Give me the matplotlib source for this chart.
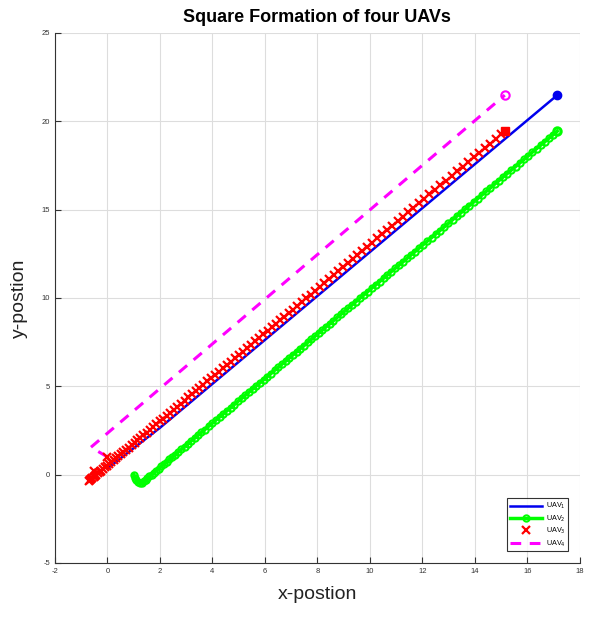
import matplotlib
matplotlib.use("Agg")
import matplotlib.pyplot as plt

plt.rcParams['font.family'] = ['Liberation Sans', 'DejaVu Sans']
plt.rcParams['axes.unicode_minus'] = False

# UAV1 (blue) path
uav1_x = [0.0, 2.0, 17.14]
uav1_y = [0.35, 2.65, 21.47]

# UAV2 (green) path, with the hook at the start
uav2_x = [1.00, 1.04, 1.10, 1.17, 1.25, 1.32,
          1.38, 1.45, 1.52, 1.60, 1.68, 1.77, 1.86, 1.95, 2.05, 2.15, 2.25, 2.36, 2.47, 2.58,
          2.70, 2.82, 2.94, 3.06, 3.19, 3.32, 3.45, 3.58, 3.71, 3.85, 3.99, 4.13, 4.27, 4.41,
          4.55, 4.69, 4.83, 4.97, 5.11, 5.25, 5.39, 5.53, 5.67, 5.81, 5.95, 6.09, 6.23, 6.37,
          6.51, 6.65, 6.79, 6.93, 7.07, 7.21, 7.35, 7.49, 7.63, 7.77, 7.91, 8.05, 8.19, 8.33,
          8.47, 8.61, 8.75, 8.89, 9.03, 9.17, 9.32, 9.47, 9.62, 9.77, 9.92, 10.07, 10.22, 10.37,
          10.52, 10.67, 10.82, 10.97, 11.12, 11.27, 11.42, 11.57, 11.72, 11.87, 12.03, 12.19,
          12.35, 12.51, 12.67, 12.83, 12.99, 13.15, 13.31, 13.47, 13.63, 13.79, 13.95, 14.11,
          14.27, 14.43, 14.59, 14.75, 14.91, 15.07, 15.23, 15.39, 15.55, 15.71, 15.87, 16.03,
          16.19, 16.35, 16.51, 16.67, 16.83, 16.99, 17.14]
uav2_y = [0.00, -0.18, -0.32, -0.42, -0.47, -0.45,
          -0.37, -0.29, -0.20, -0.10, 0.00, 0.12, 0.23, 0.34, 0.47, 0.59, 0.72, 0.86, 0.99, 1.13,
          1.28, 1.43, 1.59, 1.74, 1.90, 2.06, 2.23, 2.39, 2.55, 2.73, 2.90, 3.08, 3.26, 3.43,
          3.61, 3.78, 3.96, 4.14, 4.31, 4.49, 4.66, 4.84, 5.02, 5.19, 5.37, 5.54, 5.72, 5.90,
          6.07, 6.25, 6.42, 6.60, 6.78, 6.95, 7.13, 7.30, 7.48, 7.65, 7.83, 8.01, 8.18, 8.36,
          8.53, 8.71, 8.89, 9.06, 9.24, 9.41, 9.60, 9.79, 9.98, 10.17, 10.36, 10.55, 10.73, 10.92,
          11.11, 11.30, 11.49, 11.68, 11.86, 12.05, 12.24, 12.43, 12.62, 12.81, 13.01, 13.21,
          13.41, 13.61, 13.81, 14.01, 14.21, 14.42, 14.62, 14.82, 15.02, 15.22, 15.42, 15.62,
          15.82, 16.02, 16.22, 16.43, 16.63, 16.83, 17.03, 17.23, 17.43, 17.63, 17.83, 18.03,
          18.24, 18.44, 18.64, 18.84, 19.04, 19.24, 19.43]

# UAV3 (red) samples
uav3_x = [0.00, -0.52,
          -0.69, -0.66, -0.62, -0.58, -0.53, -0.48, -0.42, -0.36, -0.30, -0.23, -0.16, -0.09,
          -0.01, 0.07, 0.15, 0.24, 0.33, 0.42, 0.51, 0.61, 0.71, 0.81, 0.92, 1.03, 1.14, 1.25,
          1.37, 1.49, 1.61, 1.73, 1.86, 1.99, 2.12, 2.25, 2.38, 2.52, 2.66, 2.80, 2.94, 3.08,
          3.22, 3.36, 3.50, 3.65, 3.80, 3.95, 4.10, 4.25, 4.40, 4.55, 4.70, 4.85, 5.00, 5.15,
          5.30, 5.46, 5.62, 5.78, 5.94, 6.10, 6.26, 6.42, 6.58, 6.74, 6.90, 7.06, 7.23, 7.40,
          7.57, 7.74, 7.91, 8.08, 8.26, 8.44, 8.62, 8.80, 8.98, 9.16, 9.34, 9.52, 9.71, 9.90,
          10.09, 10.28, 10.47, 10.66, 10.86, 11.06, 11.26, 11.46, 11.66, 11.86, 12.06, 12.27,
          12.48, 12.69, 12.90, 13.11, 13.32, 13.53, 13.74, 13.95, 14.16, 14.37, 14.58, 14.79,
          15.00]
uav3_y = [1.00, 0.22,
          -0.34, -0.30, -0.25, -0.20, -0.14, -0.08, 0.00, 0.07, 0.15, 0.23, 0.32, 0.41,
          0.51, 0.61, 0.71, 0.82, 0.93, 1.05, 1.16, 1.28, 1.41, 1.53, 1.67, 1.81, 1.95, 2.08,
          2.23, 2.38, 2.53, 2.68, 2.85, 3.01, 3.17, 3.33, 3.49, 3.67, 3.84, 4.02, 4.19, 4.37,
          4.54, 4.72, 4.89, 5.08, 5.27, 5.46, 5.64, 5.83, 6.02, 6.20, 6.39, 6.58, 6.77, 6.95,
          7.14, 7.34, 7.54, 7.74, 7.94, 8.14, 8.34, 8.54, 8.74, 8.94, 9.14, 9.34, 9.55, 9.76,
          9.98, 10.19, 10.40, 10.61, 10.84, 11.06, 11.29, 11.51, 11.74, 11.96, 12.19, 12.41,
          12.65, 12.89, 13.12, 13.36, 13.60, 13.84, 14.09, 14.34, 14.59, 14.84, 15.09, 15.34,
          15.58, 15.85, 16.11, 16.37, 16.63, 16.90, 17.16, 17.42, 17.68, 17.95, 18.21, 18.47,
          18.73, 18.99, 19.26]

# UAV4 (magenta) path
uav4_x = [0.00, -0.63, 15.14]
uav4_y = [1.00, 1.55, 21.47]

# final positions (square formation)
end_x = {'uav1': 17.14, 'uav2': 17.14, 'uav3': 15.14, 'uav4': 15.14}
end_y = {'uav1': 21.47, 'uav2': 19.43, 'uav3': 19.43, 'uav4': 21.47}

fig = plt.figure(figsize=(6.11, 6.18), dpi=100)
ax = fig.add_axes([0.090, 0.089, 0.859, 0.858])

ax.plot(uav1_x, uav1_y, '-', color='#0000ee', lw=1.8, label='UAV$_1$', zorder=3)
ax.plot(uav2_x, uav2_y, '-o', color='#00ff00', lw=2.5, ms=4.5, mfc='none', mew=1.5,
        label='UAV$_2$', zorder=2)
ax.plot(uav3_x, uav3_y, 'x', color='#ff0000', ms=5.5, mew=1.6, label='UAV$_3$', zorder=4)
ax.plot(uav4_x, uav4_y, '--', color='#ff00ff', lw=2.2, dashes=(3.5, 2.8), label='UAV$_4$', zorder=2)

ax.plot(end_x['uav1'], end_y['uav1'], 'o', color='#0000ee', ms=6, zorder=5)
ax.plot(end_x['uav2'], end_y['uav2'], 'o', color='#00ff00', ms=6, mfc='none', mew=1.5, zorder=5)
ax.plot(end_x['uav3'], end_y['uav3'], 's', color='#ff0000', ms=6, zorder=5)
ax.plot(end_x['uav4'], end_y['uav4'], 'o', color='#ff00ff', ms=6, mfc='none', mew=1.5, zorder=5)

ax.set_xlim(-2, 18)
ax.set_ylim(-5, 25)
ax.set_xticks(range(-2, 19, 2))
ax.set_yticks(range(-5, 26, 5))
ax.grid(True, color='#dddddd', lw=0.8)
ax.set_axisbelow(True)
for s in ['top', 'right']:
    ax.spines[s].set_visible(False)
for s in ['left', 'bottom']:
    ax.spines[s].set_color('#333333')
    ax.spines[s].set_linewidth(0.8)
ax.tick_params(direction='in', length=4, labelsize=5.5, labelcolor='#333333', color='#333333')

ax.set_xlabel('x-postion', fontsize=14, color='#222222', labelpad=8)
ax.set_ylabel('y-postion', fontsize=14, color='#222222', labelpad=10)
ax.set_title('Square Formation of four UAVs', fontsize=13, fontweight='bold', pad=8)

leg = ax.legend(loc='lower right', fontsize=5.2, frameon=True, fancybox=False,
                edgecolor='black', handlelength=4.5, borderpad=0.4, labelspacing=0.3,
                handletextpad=0.5, bbox_to_anchor=(0.985, 0.015))
leg.get_frame().set_linewidth(0.8)

fig.savefig('out.png', dpi=100)
